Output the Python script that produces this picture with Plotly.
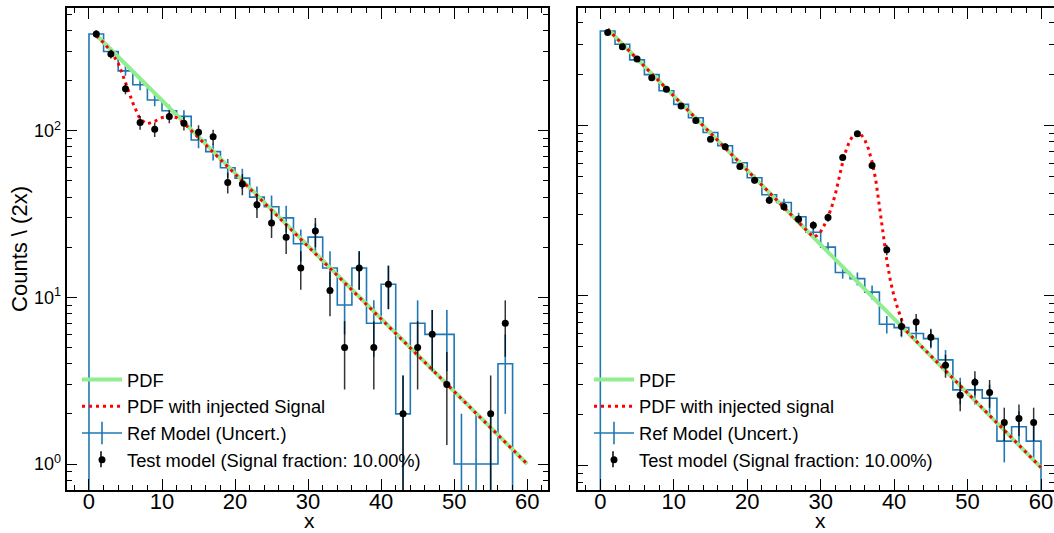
import plotly.graph_objects as go

# ---------------- data ----------------
bin_width = 2
bin_centers = list(range(1, 60, 2))          # 30 bins of width 2 on [0, 60]

# Left panel
left_ref = [381, 299, 229, 189, 153, 132, 122, 88, 75, 60, 52, 40, 35, 30, 21,
            23, 15, 9, 15, 7, 12, 2, 7, 6, 6, 1, 1, 1, 4, 0]
left_ref_err = [19.5, 17.3, 15.1, 13.7, 12.4, 11.5, 11.0, 9.4, 8.7, 7.7, 7.2, 6.3, 5.9, 5.5, 4.6,
                4.8, 3.9, 3.0, 3.9, 2.6, 3.5, 1.4, 2.6, 2.4, 2.4, 1.0, 1.0, 1.0, 2.0, 0]
left_test = [381, 289, 179, 112, 102, 122, 111, 98, 92, 49, 48, 36, 28, 23, 15,
             25, 11, 5, 15, 5, 12, 2, 5, 6, 3, 0, 0, 2, 7, 0]
left_test_err = [19.5, 17.0, 13.4, 10.6, 10.1, 11.0, 10.5, 9.9, 9.6, 7.0, 6.9, 6.0, 5.3, 4.8, 3.9,
                 5.0, 3.3, 2.2, 3.9, 2.2, 3.5, 1.4, 2.2, 2.4, 1.7, 0, 0, 1.4, 2.6, 0]
left_pdf_x = [1, 60]
left_pdf_y = [376, 1.0]
left_sig_x = [1, 2, 3, 4, 5, 6, 7, 8, 9, 10, 11, 12, 13, 60]
left_sig_y = [372, 338, 300, 255, 195, 147, 117, 110, 114, 120, 122, 120, 111, 1.0]

# Right panel
right_ref = [359, 300, 243, 199, 160, 133, 111, 91, 76, 60.4, 49.3, 39.2, 35.3, 29.1, 23.6,
             19.3, 13.7, 12.6, 10.5, 6.8, 6.5, 6.0, 5.6, 4.2, 2.8, 2.8, 2.5, 1.4, 1.7, 1.4]
right_ref_err = [5.7, 5.2, 4.7, 4.2, 3.8, 3.5, 3.2, 2.9, 2.6, 2.3, 2.1, 1.9, 1.8, 1.6, 1.5,
                 1.3, 1.1, 1.1, 1.0, 0.8, 0.8, 0.7, 0.7, 0.6, 0.5, 0.5, 0.5, 0.35, 0.4, 0.35]
right_test = [352, 290, 246, 191, 163, 130, 107, 83, 75, 57.5, 47.6, 36.4, 33.3, 28.1, 25.9,
              28.8, 64.8, 89.4, 58.2, 18.6, 6.6, 7.0, 5.7, 3.9, 2.6, 3.1, 2.7, 1.8, 1.9, 1.8]
right_test_err = [5.6, 5.1, 4.7, 4.1, 3.8, 3.4, 3.1, 2.7, 2.6, 2.3, 2.1, 1.8, 1.7, 1.6, 1.5,
                  1.6, 2.4, 2.8, 2.3, 1.3, 0.8, 0.8, 0.7, 0.6, 0.5, 0.5, 0.5, 0.4, 0.4, 0.4]
right_pdf_x = [1, 60]
right_pdf_y = [368, 0.98]
right_sig_x = [1, 29, 29.5, 30, 30.5, 31, 31.5, 32, 32.5, 33, 33.5, 34, 34.5, 35, 35.5, 36,
               36.5, 37, 37.5, 38, 38.5, 39, 39.5, 40, 40.5, 41, 41.5, 42, 60]
right_sig_y = [368, 22.1, 22.6, 23.8, 26, 29, 33.2, 39.5, 49, 61, 72.5, 82, 88, 90.6, 88.5, 82.5,
               73, 61, 48, 33, 23, 16.2, 12.2, 9.9, 8.4, 7.2, 6.3, 6.0, 0.98]

x_ticks = [0, 10, 20, 30, 40, 50, 60]
y_tickvals = [1, 10, 100]
y_ticktext = ["10<sup>0</sup>", "10<sup>1</sup>", "10<sup>2</sup>"]
x_title = "x"
y_title = "Counts \\ (2x)"

# ---------------- styling ----------------
FONT = "Liberation Sans, Arial, Helvetica, sans-serif"
BLUE = "#1f77b4"
GREEN = "#90ee90"
RED = "#ff0000"
FLOOR = 1e-3   # stand-in for empty bins on the log axis (falls below the visible range)

W, H = 1054, 533
ML, MR, MT, MB = 0, 0, 8, 43
LEG_FONT = 18.3
LEG_TOP = 361          # pixel top of the legends
ROW_H = LEG_FONT * 1.3 + 3
FIRST_ROW_OFFSET = 18  # distance from legend top to the first row centre


def step_xy(values):
    xs = [bin_centers[0] - bin_width / 2] + [c - bin_width / 2 for c in bin_centers] \
         + [bin_centers[-1] + bin_width / 2]
    ys = [FLOOR] + [v if v > 0 else FLOOR for v in values] + [FLOOR]
    return xs, ys


def nz(values):
    return [v if v > 0 else None for v in values]


pw = W - ML - MR
ph = H - MT - MB


def px2paper_x(p):
    return (p - ML) / pw


def px2paper_y(p):
    return (H - MB - p) / ph


fig = go.Figure()


def add_panel(xa, ya, leg, ref, ref_err, test, test_err, pdf_x, pdf_y, sig_x, sig_y, sig_name):
    sx, sy = step_xy(ref)
    fig.add_trace(go.Scatter(x=sx, y=sy, mode="lines", line=dict(color=BLUE, width=1.6, shape="hv"),
                             xaxis=xa, yaxis=ya, showlegend=False, hoverinfo="skip"))
    fig.add_trace(go.Scatter(x=bin_centers, y=nz(ref), mode="markers", marker=dict(size=0.1, color=BLUE),
                             error_y=dict(type="data", array=ref_err, color=BLUE, thickness=1.6, width=0),
                             xaxis=xa, yaxis=ya, showlegend=False, hoverinfo="skip"))
    fig.add_trace(go.Scatter(x=pdf_x, y=pdf_y, mode="lines", line=dict(color=GREEN, width=4),
                             xaxis=xa, yaxis=ya, name="PDF", legend=leg, legendgroup=leg + "a"))
    fig.add_trace(go.Scatter(x=sig_x, y=sig_y, mode="lines", line=dict(color=RED, width=3, dash="3px,4px"),
                             xaxis=xa, yaxis=ya, name=sig_name, legend=leg, legendgroup=leg + "b"))
    fig.add_trace(go.Scatter(x=[None], y=[None], mode="lines+markers",
                             line=dict(color=BLUE, width=1.6),
                             marker=dict(symbol="line-ns-open", size=16, color=BLUE,
                                         line=dict(color=BLUE, width=1.6)),
                             xaxis=xa, yaxis=ya, name="Ref Model (Uncert.)", legend=leg,
                             legendgroup=leg + "c"))
    fig.add_trace(go.Scatter(x=bin_centers, y=nz(test), mode="markers",
                             marker=dict(symbol="circle", size=7, color="black"),
                             error_y=dict(type="data", array=test_err, color="rgba(0,0,0,0.8)",
                                          thickness=1.5, width=0),
                             xaxis=xa, yaxis=ya, name="Test model (Signal fraction: 10.00%)",
                             legend=leg, legendgroup=leg + "d"))


add_panel("x", "y", "legend", left_ref, left_ref_err, left_test, left_test_err,
          left_pdf_x, left_pdf_y, left_sig_x, left_sig_y, "PDF with injected Signal")
add_panel("x2", "y2", "legend2", right_ref, right_ref_err, right_test, right_test_err,
          right_pdf_x, right_pdf_y, right_sig_x, right_sig_y, "PDF with injected signal")

xcommon = dict(tickmode="array", tickvals=x_ticks, ticks="inside", ticklen=11, tickwidth=1.3,
               tickcolor="black", showline=True, linecolor="black", linewidth=2, mirror="allticks",
               showgrid=False, zeroline=False, tickfont=dict(size=22, color="black"),
               ticklabelstandoff=-9, automargin=False,
               minor=dict(tickmode="linear", tick0=0, dtick=2, ticks="inside", ticklen=5,
                          tickwidth=1.2, tickcolor="black", showgrid=False))
ycommon = dict(type="log", tickmode="array", tickvals=y_tickvals, ticks="inside", ticklen=10,
               tickwidth=1.3, tickcolor="black", showline=True, linecolor="black", linewidth=2,
               mirror="allticks", showgrid=False, zeroline=False, automargin=False,
               minor=dict(dtick="D1", ticks="inside", ticklen=5, tickwidth=1.2, tickcolor="black",
                          showgrid=False))

legend_common = dict(xanchor="left", yanchor="top", bgcolor="rgba(0,0,0,0)",
                     font=dict(size=LEG_FONT, family=FONT, color="black"), itemwidth=40,
                     tracegroupgap=0)

# vertical error-bar stroke of the "Test model" legend glyph
row4_center = LEG_TOP + FIRST_ROW_OFFSET + 3 * ROW_H
shapes = []
for gx in (101, 613):
    shapes.append(dict(type="line", xref="paper", yref="paper",
                       x0=px2paper_x(gx), x1=px2paper_x(gx),
                       y0=px2paper_y(row4_center - 8), y1=px2paper_y(row4_center + 8),
                       line=dict(color="black", width=1.5), layer="above"))

# x-axis titles (annotations anchored on the bottom edge of the figure)
annotations = []
for cx in (309, 820):
    annotations.append(dict(text=x_title, xref="paper", yref="paper", x=px2paper_x(cx),
                            y=px2paper_y(H), xanchor="center", yanchor="bottom", showarrow=False,
                            borderpad=0, font=dict(size=21, color="black", family=FONT)))

fig.update_layout(
    width=W, height=H, margin=dict(l=ML, r=MR, t=MT, b=MB, autoexpand=False),
    paper_bgcolor="white", plot_bgcolor="white",
    font=dict(family=FONT, color="black"),
    xaxis=dict(domain=[px2paper_x(66.7), px2paper_x(548)], range=[-3.05, 62.85], anchor="y", **xcommon),
    yaxis=dict(domain=[0, 1], range=[-0.156, 2.737], anchor="x", ticktext=y_ticktext,
               tickfont=dict(size=18, color="black"),
               title=dict(text=y_title, font=dict(size=22, color="black"), standoff=0),
               **ycommon),
    xaxis2=dict(domain=[px2paper_x(578.3), 1.0], range=[-3.0, 61.77], anchor="y2", **xcommon),
    yaxis2=dict(domain=[0, 1], range=[-0.141, 2.690], anchor="x2", showticklabels=False, **ycommon),
    legend=dict(x=px2paper_x(77), y=px2paper_y(LEG_TOP), **legend_common),
    legend2=dict(x=px2paper_x(589), y=px2paper_y(LEG_TOP), **legend_common),
    shapes=shapes,
    annotations=annotations,
    showlegend=True,
)

fig.write_html("out.html")
